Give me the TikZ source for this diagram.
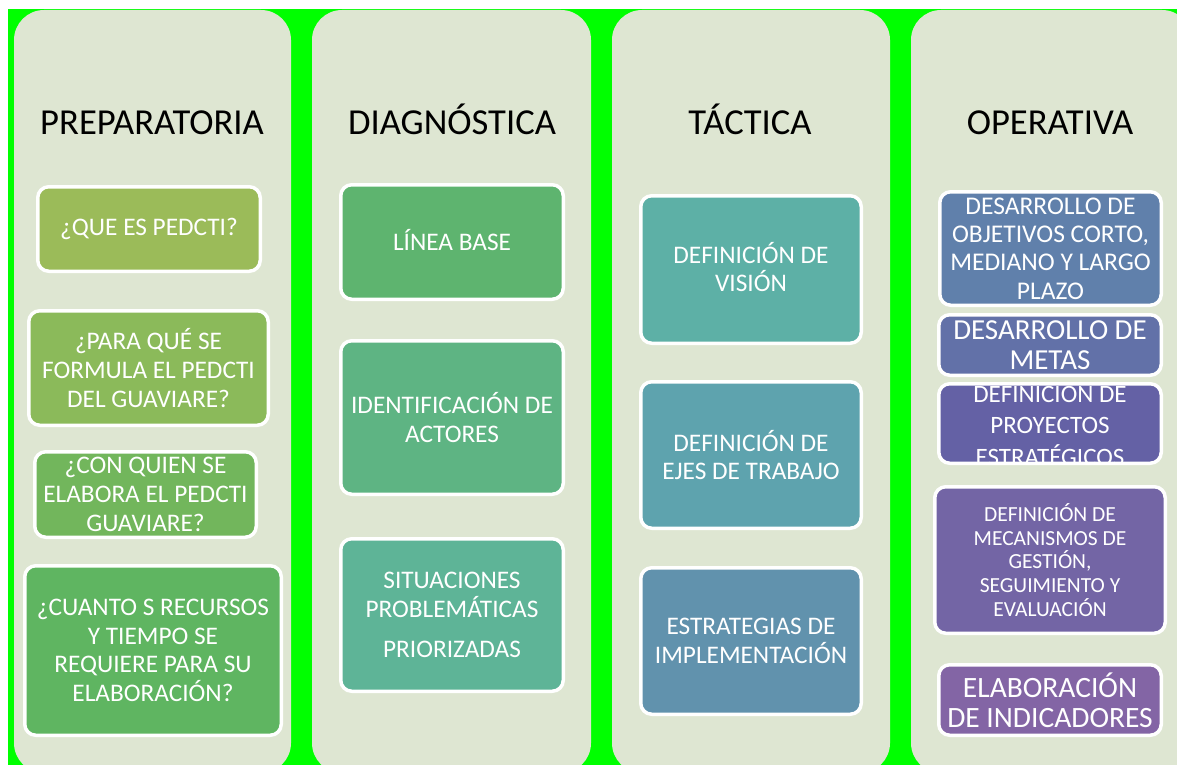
\documentclass[tikz,border=0pt]{standalone}
\usepackage{fontspec}
\setmainfont{Carlito}
\definecolor{bggreen}{HTML}{00FF00}
\definecolor{panelc}{HTML}{DEE6D2}
\definecolor{cB1}{HTML}{9BBB59}
\definecolor{cB2}{HTML}{8BBA5A}
\definecolor{cB3}{HTML}{72B65C}
\definecolor{cB4}{HTML}{5FB561}
\definecolor{cD1}{HTML}{5EB46F}
\definecolor{cD2}{HTML}{5EB483}
\definecolor{cD3}{HTML}{5EB497}
\definecolor{cT1}{HTML}{5DB0A6}
\definecolor{cT2}{HTML}{5EA3AE}
\definecolor{cT3}{HTML}{6192AD}
\definecolor{cO1}{HTML}{6080AB}
\definecolor{cO2}{HTML}{6271A8}
\definecolor{cO3}{HTML}{6461A5}
\definecolor{cO4}{HTML}{7365A5}
\definecolor{cO5}{HTML}{8365A5}
\tikzset{
  panel/.style={fill=panelc, draw=none, rounded corners=30pt},
  card/.style={draw=white, line width=3.5pt, rounded corners=11pt, text=white,
    align=center, inner sep=0pt, font=\fontsize{25.3}{28.7}\selectfont},
  cardtext/.style={text=white, align=center, inner sep=0pt},
  ttl/.style={font=\fontsize{36.6}{42}\selectfont, text=black, anchor=base, inner sep=0pt}
}
\begin{document}
\begin{tikzpicture}[x=1pt,y=-1pt]
\useasboundingbox (0,0) rectangle (1177,765);
\clip (0,0) rectangle (1177,765);
\fill[white] (0,0) rectangle (1177,765);
\fill[bggreen] (8,9) rectangle (1177,765);
% panels
\path[panel] (14,10) rectangle (291,773);
\path[panel] (312,10) rectangle (591,773);
\path[panel] (612,10) rectangle (890,773);
\path[panel] (911,10) rectangle (1192,773);
% titles
\node[ttl] (h1) at (152,135) {PREPARATORIA};
\node[ttl] (h2) at (452,135) {DIAGNÓSTICA};
\node[ttl] (h3) at (750,135) {TÁCTICA};
\node[ttl] (h4) at (1050,135) {OPERATIVA};
% column 1
\node[card, fill=cB1, minimum width=222.5pt, minimum height=84.5pt] (b1) at (149,229) {¿QUE ES PEDCTI?};
\node[card, fill=cB2, minimum width=239.5pt, minimum height=114.5pt] (b2) at (148.5,368) {¿PARA QUÉ SE\\FORMULA EL PEDCTI\\DEL GUAVIARE?};
\node[card, fill=cB3, minimum width=221.5pt, minimum height=85.5pt] (b3) at (145.5,494.5) {¿CON QUIEN SE\\ELABORA EL PEDCTI\\GUAVIARE?};
\node[card, fill=cB4, minimum width=256.5pt, minimum height=169.5pt] (b4) at (153,650.5) {¿CUANTO S RECURSOS\\Y TIEMPO SE\\REQUIERE PARA SU\\ELABORACIÓN?};
% column 2
\node[card, fill=cD1, minimum width=222.5pt, minimum height=114.5pt, text depth=5pt] (d1) at (452,242) {L\'{I}NEA BASE};
\node[card, fill=cD2, minimum width=222.5pt, minimum height=153.5pt] (d2) at (452,417.5) {IDENTIFICACIÓN DE\\ACTORES};
\node[card, fill=cD3, minimum width=222.5pt, minimum height=152.5pt] (d3) at (452,615) {SITUACIONES\\PROBLEMÁTICAS\\[11pt]PRIORIZADAS};
% column 3
\node[card, fill=cT1, minimum width=220.5pt, minimum height=147.5pt, text depth=5pt] (t1) at (751,269.5) {DEFINICIÓN DE\\VISIÓN};
\node[card, fill=cT2, minimum width=220.5pt, minimum height=146.5pt] (t2) at (751,455) {DEFINICIÓN DE\\EJES DE TRABAJO};
\node[card, fill=cT3, minimum width=220.5pt, minimum height=146.5pt] (t3) at (751,641) {ESTRATEGIAS DE\\IMPLEMENTACIÓN};
% column 4
\node[card, fill=cO1, minimum width=221.5pt, minimum height=113.5pt, font=\fontsize{25.5}{28.3}\selectfont] (o1) at (1050.5,248.5) {DESARROLLO DE\\OBJETIVOS CORTO,\\MEDIANO Y LARGO\\PLAZO};
\node[card, fill=cO2, minimum width=222.5pt, minimum height=60.5pt, font=\fontsize{29}{30}\selectfont] (o2) at (1050,345) {DESARROLLO DE\\METAS};
\node[card, fill=cO3, minimum width=222.5pt, minimum height=79.5pt] (o3) at (1050,423.5) {};
\begin{scope}
  \clip[rounded corners=9pt] ([shift={(1.75,1.75)}]o3.north west) rectangle ([shift={(-1.75,-1.75)}]o3.south east);
  \node[cardtext, font=\fontsize{25}{31.5}\selectfont] (o3t) at (o3.center) {DEFINICIÓN DE\\PROYECTOS\\ESTRATÉGICOS};
\end{scope}
\node[card, fill=cO4, minimum width=230.5pt, minimum height=146.5pt, font=\fontsize{21.5}{23.75}\selectfont] (o4) at (1050,560) {DEFINICIÓN DE\\MECANISMOS DE\\GESTIÓN,\\SEGUIMIENTO Y\\EVALUACIÓN};
\node[card, fill=cO5, minimum width=222.5pt, minimum height=70.5pt, font=\fontsize{29.5}{30}\selectfont] (o5) at (1050,700) {ELABORACIÓN\\DE INDICADORES};
\end{tikzpicture}
\end{document}
